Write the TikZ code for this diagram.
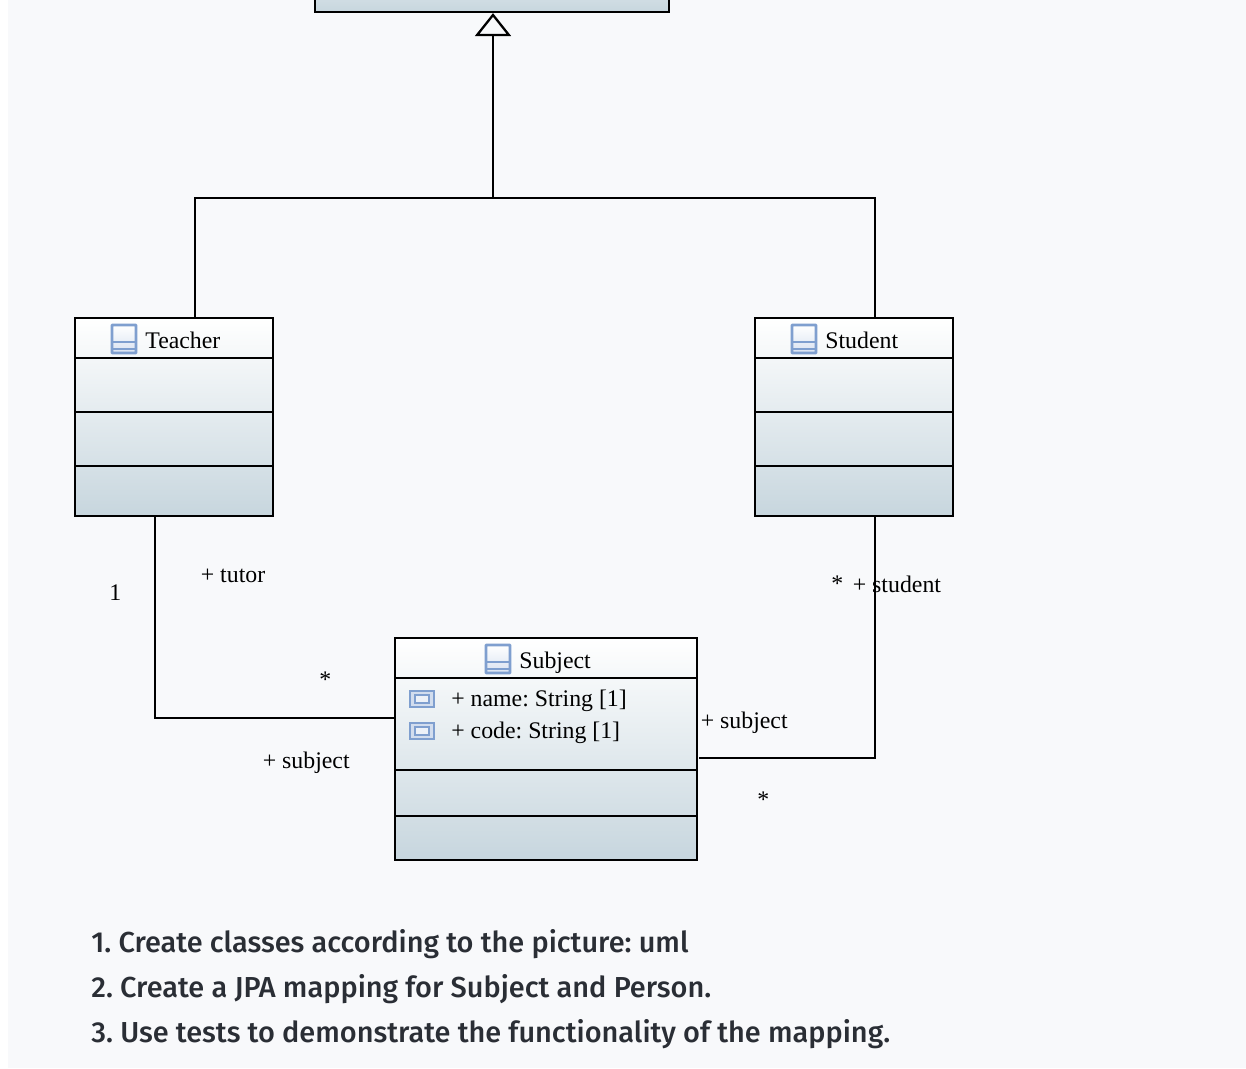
\documentclass[tikz,border=0pt]{standalone}
\usepackage{fontspec}
\setmainfont{Liberation Serif}
\newfontfamily\notefont{Fira Sans Medium}
\definecolor{umlback}{HTML}{F8F9FB}
\definecolor{umlbottom}{HTML}{C7D6DE}
\definecolor{umlicon}{HTML}{7F9FCF}
\definecolor{umlnote}{HTML}{2A2E35}
\usetikzlibrary{arrows.meta,positioning,calc}
\tikzset{
  umlclass/.style={draw=black, line width=2.3*0.5669pt, top color=white, bottom color=umlbottom, inner sep=0pt},
  umlline/.style={black, line width=2.3*0.5669pt},
  umltext/.style={anchor=base west, inner sep=0pt, font=\frenchspacing\fontsize{13.55}{16}\selectfont},
  umlnote/.style={anchor=base west, inner sep=0pt, text=umlnote, font=\frenchspacing\notefont\fontsize{16.45}{19}\selectfont},
  classicon/.pic={
    \draw[umlicon, line width=1.6pt, rounded corners=0.4pt, top color=white, bottom color=umlicon!30] (-12,-14) rectangle (12,14);
    \draw[umlicon, line width=1.6pt] (-12,3) -- (12,3) (-12,10) -- (12,10);
  },
  attricon/.pic={
    \draw[umlicon, line width=1.5pt, fill=umlicon!35] (-12,-8) rectangle (12,8);
    \draw[umlicon, line width=1.3pt, fill=white!85!umlicon] (-7,-4) rectangle (7,4);
  }
}

\begin{document}
\begin{tikzpicture}[x=0.02cm, y=-0.02cm]
\useasboundingbox (0,0) rectangle (1246,1068);
\clip (0,0) rectangle (1246,1068);
\fill[umlback] (8,0) rectangle (1246,1068);

% classes
\node[umlclass, minimum width=7.08cm, minimum height=1.6cm] (person) at (492,-28) {};
\node[umlclass, minimum width=3.96cm, minimum height=3.96cm] (teacher) at (174,417) {};
\node[umlclass, minimum width=3.96cm, minimum height=3.96cm] (student) at (854,417) {};
\node[umlclass, minimum width=6.04cm, minimum height=4.44cm] (subject) at (546,749) {};

% compartments
\foreach \y in {358,412,466} {
  \draw[umlline] (75,\y) -- (274,\y);
  \draw[umlline] (755,\y) -- (954,\y);
}
\foreach \y in {678,770,816}
  \draw[umlline] (395,\y) -- (698,\y);

% titles
\pic at (124,339) {classicon};
\node[umltext] (teachername) at (145,348) {Teacher};
\pic at (804,339) {classicon};
\node[umltext] (studentname) at (825,348) {Student};
\pic at (498,659) {classicon};
\node[umltext] (subjectname) at (519,668) {Subject};
\pic at (422,699) {attricon};
\node[umltext] (attrname) at (451,706) {+ name: String [1]};
\pic at (422,731) {attricon};
\node[umltext] (attrcode) at (451,738) {+ code: String [1]};

% generalization
\coordinate (junction) at (493,198);
\coordinate (teacherup) at (195,198);
\coordinate (studentup) at (875,198);
\draw[umlline] (teacher.north -| teacherup) -- (teacherup) -- (studentup) -- (student.north -| studentup);
\draw[umlline, -{Triangle[open, length=23*0.5669pt, width=36*0.5669pt]}] (junction) -- (person.south -| junction);

% associations
\coordinate (teacherdown) at (155,718);
\coordinate (studentdown) at (875,758);
\draw[umlline] (155,517) -- (teacherdown) -- (subject.west |- teacherdown);
\draw[umlline] (875,517) -- (studentdown) -- (699,758);

% labels
\node[umltext] (tutorrole) at (200.5,582) {+ tutor};
\node[umltext] (tutormult) at (109,600) {1};
\node[umltext] (subjectmultl) at (319,687) {*};
\node[umltext] (subjectrolel) at (262.5,768) {+ subject};
\node[umltext] (studentmult) at (831,591) {*};
\node[umltext] (studentrole) at (852.5,592) {+ student};
\node[umltext] (subjectroler) at (700.5,728) {+ subject};
\node[umltext] (subjectmultr) at (757,807) {*};

% notes
\node[umlnote] (noteone) at (91,952) {1. Create classes according to the picture: uml};
\node[umlnote] (notetwo) at (91,997) {2. Create a JPA mapping for Subject and Person.};
\node[umlnote] (notethree) at (91,1042) {3. Use tests to demonstrate the functionality of the mapping.};
\end{tikzpicture}
\end{document}
